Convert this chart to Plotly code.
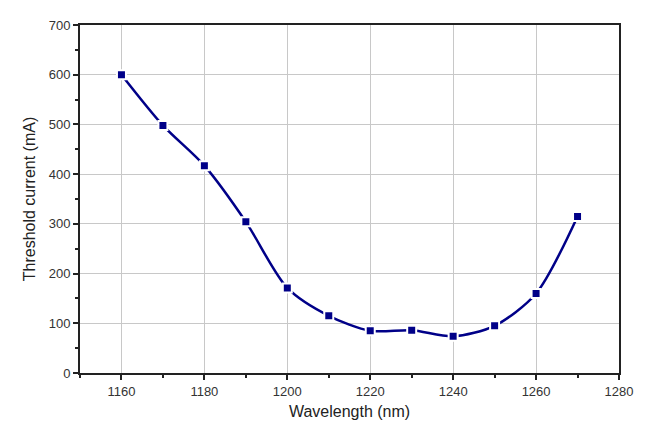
import plotly.graph_objects as go

wavelength = [1160, 1170, 1180, 1190, 1200, 1210, 1220, 1230, 1240, 1250, 1260, 1270]
threshold = [600, 498, 417, 304, 171, 115, 85, 86, 74, 95, 160, 315]

navy = "#000088"
fig = go.Figure()
fig.add_trace(go.Scatter(
    x=wavelength, y=threshold, mode="lines+markers",
    line=dict(color=navy, width=2.5, shape="spline", smoothing=0.8),
    marker=dict(symbol="square", size=9, color=navy, line=dict(color="white", width=2)),
    showlegend=False,
))

font = dict(family="Liberation Sans, Arial, sans-serif", size=13, color="#333333")
fig.update_layout(
    width=655, height=431,
    margin=dict(l=80, r=36, t=25, b=58),
    paper_bgcolor="white", plot_bgcolor="white",
    font=font,
)
fig.update_xaxes(
    range=[1150, 1280], dtick=20, tick0=1160,
    showgrid=True, gridcolor="#c8c8c8", gridwidth=1,
    showline=True, linecolor="#222222", linewidth=2, mirror=True,
    ticks="outside", ticklen=5, tickwidth=1.5, tickcolor="#222222",
    minor=dict(dtick=10, tick0=1150, ticks="outside", ticklen=3, tickcolor="#222222", showgrid=False),
    zeroline=False,
    title=dict(text="Wavelength (nm)", font=dict(size=16, color="#222222"), standoff=8),
    tickfont=dict(size=13, color="#333333"),
)
fig.update_yaxes(
    range=[0, 700], dtick=100,
    showgrid=True, gridcolor="#c8c8c8", gridwidth=1,
    showline=True, linecolor="#222222", linewidth=2, mirror=True,
    ticks="outside", ticklen=5, tickwidth=1.5, tickcolor="#222222",
    minor=dict(dtick=50, ticks="outside", ticklen=3, tickcolor="#222222", showgrid=False),
    zeroline=False,
    title=dict(text="Threshold current (mA)", font=dict(size=16, color="#222222"), standoff=9),
    tickfont=dict(size=13, color="#333333"),
)
fig.write_html("out.html")
